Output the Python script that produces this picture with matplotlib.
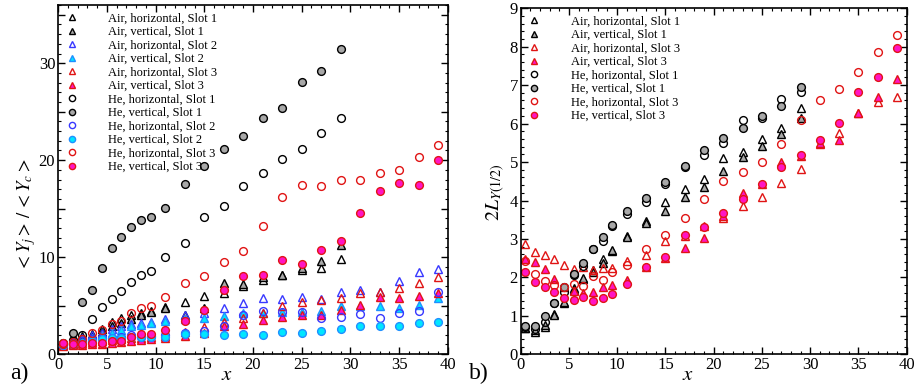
import matplotlib
matplotlib.use("Agg")
import matplotlib.pyplot as plt
from matplotlib.ticker import MultipleLocator, FuncFormatter

plt.rcParams["font.family"] = "serif"
plt.rcParams["font.serif"] = ["Liberation Serif", "DejaVu Serif"]
plt.rcParams["mathtext.fontset"] = "stix"

# streamwise stations
x_s1 = [0.5, 1.5, 2.5, 3.5, 4.5, 5.5, 6.5, 7.5, 8.5, 9.5,
        11, 13, 15, 17, 19, 21, 23, 25, 27, 29]
x_all = x_s1 + [31, 33, 35, 37, 39]

# ---- panel a: <Y_j>/<Y_c>
a_air_h1 = [1.0, 1.5, 1.9, 2.1, 2.6, 3.3, 3.7, 4.0, 4.2, 4.4, 4.8, 5.4, 6.0, 6.3, 7.0, 7.6, 8.1, 8.7, 8.9, 9.8]
a_air_v1 = [1.0, 1.3, 1.6, 1.9, 2.3, 2.9, 3.2, 3.6, 4.0, 4.3, 4.7, 4.0, 4.7, 7.3, 7.2, 7.9, 8.1, 8.9, 9.6, 11.2]
a_air_h2 = [1.0, 1.3, 1.6, 2.0, 2.2, 2.6, 2.9, 3.1, 3.2, 3.3, 3.6, 4.0, 4.2, 4.7, 5.3, 5.8, 5.7, 5.9, 5.7,
            6.4, 6.6, 6.4, 7.5, 8.5, 8.8]
a_air_v2 = [0.9, 1.1, 1.4, 1.7, 1.9, 2.2, 2.5, 2.9, 3.0, 3.2, 3.4, 3.6, 3.7, 3.9, 4.2, 4.2, 4.3, 4.3, 4.4,
            4.9, 5.0, 4.9, 4.7, 5.1, 5.8]
a_air_h3 = [0.9, 1.0, 1.1, 1.2, 1.3, 1.4, 1.5, 1.6, 1.7, 1.8, 1.9, 2.3, 2.8, 3.3, 3.7, 4.2, 5.0, 5.4, 5.6,
            5.8, 6.3, 6.4, 6.8, 7.3, 7.9]
a_air_v3 = [0.8, 0.9, 0.9, 1.0, 1.0, 1.1, 1.2, 1.3, 1.4, 1.5, 1.6, 1.9, 2.2, 2.9, 3.05, 3.5, 3.85, 4.0, 4.0,
            4.5, 5.05, 5.9, 5.8, 6.0, 6.3]
a_he_h1 = [1.0, 1.4, 2.0, 3.6, 4.8, 5.7, 6.5, 7.4, 8.1, 8.6, 10.0, 11.4, 14.1, 15.3, 17.3, 18.7, 20.1, 21.1, 22.8, 24.3]
a_he_v1 = [1.1, 2.2, 5.4, 6.6, 8.9, 10.9, 12.1, 13.1, 13.8, 14.1, 15.1, 17.5, 19.4, 21.1, 22.5, 24.3, 25.4,
           28.1, 29.2, 31.5]
a_he_h2 = [1.0, 1.1, 1.3, 1.5, 1.6, 1.7, 1.8, 2.0, 1.8, 1.9, 2.0, 2.2, 2.4, 2.9, 4.0, 4.4, 4.3, 4.3, 3.7,
           3.85, 4.1, 3.75, 4.25, 4.4, 6.4]
a_he_v2 = [0.9, 1.0, 1.1, 1.3, 1.5, 1.6, 1.7, 1.8, 1.8, 1.8, 1.8, 2.1, 2.05, 1.95, 2.1, 2.0, 2.3, 2.2, 2.35,
           2.6, 2.9, 2.9, 2.9, 3.2, 3.3]
a_he_h3 = [1.0, 1.2, 1.5, 2.2, 2.5, 3.1, 3.4, 4.2, 4.7, 5.0, 5.9, 7.3, 8.0, 9.5, 10.6, 13.2, 16.2, 17.4, 17.3,
           17.9, 17.9, 18.7, 19.0, 20.3, 21.6]
a_he_v3 = [1.1, 1.0, 1.0, 1.1, 1.1, 1.3, 1.3, 1.75, 2.1, 2.05, 2.5, 3.4, 4.5, 6.6, 8.0, 8.2, 9.7, 9.3, 10.7,
           11.7, 14.5, 16.8, 17.6, 17.4, 20.0]

# ---- panel b: 2 L_Y(1/2)
b_air_h1 = [0.68, 0.59, 0.72, 1.05, 1.33, 1.72, 1.95, 2.2, 2.47, 2.7, 3.08, 3.48, 3.95, 4.3, 4.55, 5.1, 5.27,
            5.59, 5.88, 6.4]
b_air_v1 = [0.68, 0.63, 0.76, 1.03, 1.35, 1.68, 1.98, 2.15, 2.38, 2.72, 3.06, 3.41, 3.73, 4.1, 4.36, 4.78,
            5.13, 5.42, 5.72, 6.14]
b_air_h3 = [2.86, 2.67, 2.58, 2.47, 2.32, 2.22, 2.26, 2.2, 2.24, 2.25, 2.43, 2.58, 2.95, 3.08, 3.35, 3.55,
            3.86, 4.08, 4.45, 4.82, 5.47, 5.75, 6.27, 6.55, 6.69]
b_air_v3 = [2.47, 2.39, 2.21, 1.95, 1.74, 1.65, 1.59, 1.63, 1.74, 1.8, 1.93, 2.28, 2.5, 2.76, 3.02, 3.6,
            4.19, 4.42, 4.99, 5.17, 5.5, 5.58, 6.27, 6.7, 7.16]
b_he_h1 = [0.7, 0.65, 0.85, 1.33, 1.63, 2.06, 2.3, 2.73, 2.94, 3.35, 3.64, 3.95, 4.43, 4.88, 5.18, 5.49,
           6.08, 6.14, 6.65, 6.83]
b_he_v1 = [0.74, 0.74, 1.0, 1.33, 1.76, 2.08, 2.37, 2.75, 3.04, 3.37, 3.74, 4.06, 4.47, 4.9, 5.32, 5.62,
           5.88, 6.2, 6.46, 6.95]
b_he_h3 = [2.43, 2.08, 1.92, 1.8, 1.74, 1.82, 1.79, 2.04, 1.93, 2.15, 2.32, 2.74, 3.1, 3.54, 4.03, 4.52,
           4.75, 5.0, 5.47, 6.08, 6.6, 6.9, 7.33, 7.86, 8.31]
b_he_v3 = [2.15, 1.87, 1.74, 1.61, 1.46, 1.41, 1.5, 1.39, 1.46, 1.57, 1.83, 2.26, 2.54, 3.1, 3.3, 3.67,
           4.04, 4.42, 4.86, 5.19, 5.56, 6.01, 6.81, 7.2, 7.96]

# marker styles: (marker, face, edge)
BLACK, GRAY = "black", "#a8a8a8"
BLUE, CYAN, CYAN_EDGE = "#3838ff", "#00e6ff", "#1f8fff"
RED, MAGENTA = "#e01414", "#ff14c4"
STY = {
    "Air, horizontal, Slot 1": ("^", "none", BLACK),
    "Air, vertical, Slot 1": ("^", GRAY, BLACK),
    "Air, horizontal, Slot 2": ("^", "none", BLUE),
    "Air, vertical, Slot 2": ("^", CYAN, CYAN_EDGE),
    "Air, horizontal, Slot 3": ("^", "none", RED),
    "Air, vertical, Slot 3": ("^", MAGENTA, RED),
    "He, horizontal, Slot 1": ("o", "none", BLACK),
    "He, vertical, Slot 1": ("o", GRAY, BLACK),
    "He, horizontal, Slot 2": ("o", "none", BLUE),
    "He, vertical, Slot 2": ("o", CYAN, CYAN_EDGE),
    "He, horizontal, Slot 3": ("o", "none", RED),
    "He, vertical, Slot 3": ("o", MAGENTA, RED),
}

series_a = [
    ("Air, horizontal, Slot 1", x_s1, a_air_h1),
    ("Air, vertical, Slot 1", x_s1, a_air_v1),
    ("Air, horizontal, Slot 2", x_all, a_air_h2),
    ("Air, vertical, Slot 2", x_all, a_air_v2),
    ("Air, horizontal, Slot 3", x_all, a_air_h3),
    ("Air, vertical, Slot 3", x_all, a_air_v3),
    ("He, horizontal, Slot 1", x_s1, a_he_h1),
    ("He, vertical, Slot 1", x_s1, a_he_v1),
    ("He, horizontal, Slot 2", x_all, a_he_h2),
    ("He, vertical, Slot 2", x_all, a_he_v2),
    ("He, horizontal, Slot 3", x_all, a_he_h3),
    ("He, vertical, Slot 3", x_all, a_he_v3),
]
series_b = [
    ("Air, horizontal, Slot 1", x_s1, b_air_h1),
    ("Air, vertical, Slot 1", x_s1, b_air_v1),
    ("Air, horizontal, Slot 3", x_all, b_air_h3),
    ("Air, vertical, Slot 3", x_all, b_air_v3),
    ("He, horizontal, Slot 1", x_s1, b_he_h1),
    ("He, vertical, Slot 1", x_s1, b_he_v1),
    ("He, horizontal, Slot 3", x_all, b_he_h3),
    ("He, vertical, Slot 3", x_all, b_he_v3),
]


def draw(ax, series):
    for name, xs, ys in series:
        m, fc, ec = STY[name]
        ax.plot(xs, ys, linestyle="none", marker=m, ms=6.2 if m == "^" else 5.6,
                mfc=fc, mec=ec, mew=1.0, label=name)
    leg = ax.legend(loc="upper left", frameon=False, fontsize=9, markerscale=0.8,
                    handlelength=1.0, handletextpad=2.4, labelspacing=0.12,
                    borderaxespad=0.2, bbox_to_anchor=(0.0, 1.0))
    return leg


def style(ax, ymax, ymajor, yminor, ylab_every):
    ax.set_xlim(0, 40)
    ax.set_ylim(0, ymax)
    ax.xaxis.set_major_locator(MultipleLocator(5))
    ax.xaxis.set_minor_locator(MultipleLocator(1))
    ax.yaxis.set_major_locator(MultipleLocator(ymajor))
    ax.yaxis.set_minor_locator(MultipleLocator(yminor))
    ax.yaxis.set_major_formatter(FuncFormatter(
        lambda v, p: f"{v:g}" if abs(v / ylab_every - round(v / ylab_every)) < 1e-6 else ""))
    ax.tick_params(which="both", direction="in", top=True, right=True, labelsize=12, pad=2)
    ax.tick_params(which="major", length=5, width=1.0)
    ax.tick_params(which="minor", length=2.5, width=0.8)
    for s in ax.spines.values():
        s.set_linewidth(1.2)
    ax.set_xlabel(r"$x$", fontsize=15, labelpad=0)
    ax.xaxis.set_label_coords(0.433, -0.035)


fig = plt.figure(figsize=(9.15, 3.89), dpi=100)
ax_a = fig.add_axes([0.0634, 0.090, 0.4262, 0.897])
ax_b = fig.add_axes([0.569, 0.089, 0.4219, 0.890])

draw(ax_a, series_a)
style(ax_a, 36, 5, 1, 10)
ax_a.set_ylabel(r"$<Y_j>\,/\,<Y_c>$", fontsize=13.5, labelpad=2)
ax_a.yaxis.set_label_coords(-0.052, 0.40)

draw(ax_b, series_b)
style(ax_b, 9, 1, 0.2, 1)
ax_b.set_ylabel(r"$2L_{Y(1/2)}$", fontsize=14.5, labelpad=2)
ax_b.yaxis.set_label_coords(-0.035, 0.47)

fig.text(0.011, 0.025, "a)", fontsize=17)
fig.text(0.512, 0.025, "b)", fontsize=17)

fig.savefig("out.png", dpi=100)
